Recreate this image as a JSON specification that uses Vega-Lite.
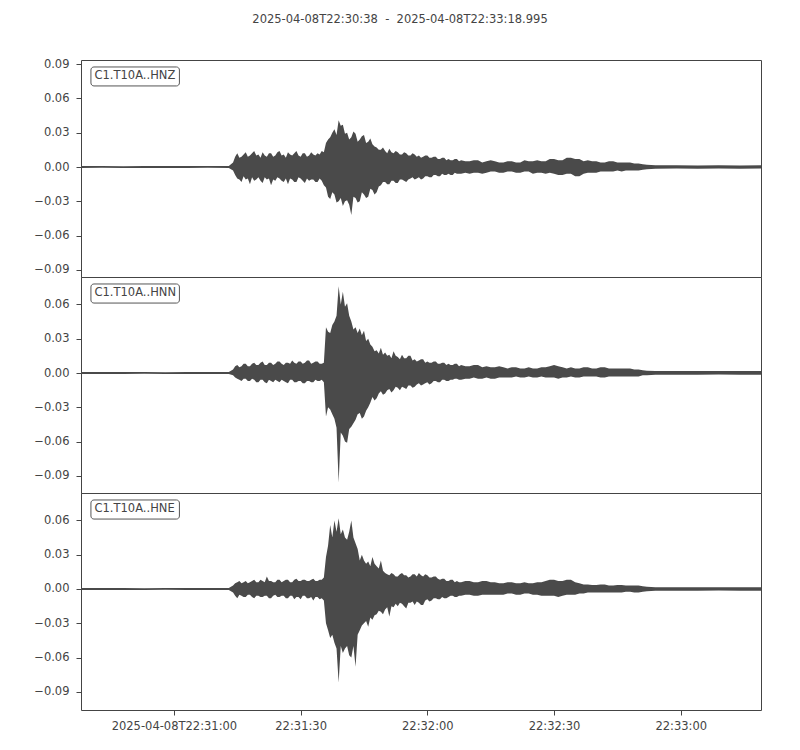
{
  "$schema": "https://vega.github.io/schema/vega-lite/v6.json",
  "padding": {"left": 8, "top": 14, "right": 5, "bottom": 5},
  "bounds": "flush",
  "title": {"text": "2025-04-08T22:30:38\u00a0\u00a0-\u00a0\u00a02025-04-08T22:33:18.995", "fontSize": 11.5, "fontWeight": "normal", "color": "#444", "anchor": "middle", "baseline": "top", "offset": 32, "dx": 15},
  "spacing": 0,
  "datasets": {
    "w": [
      {"ch":"HNZ","t":"2025-04-08T22:30:38","lo":-0.0008,"hi":0.0008},
      {"ch":"HNZ","t":"2025-04-08T22:30:43","lo":-0.0007,"hi":0.0009},
      {"ch":"HNZ","t":"2025-04-08T22:30:48","lo":-0.0009,"hi":0.0007},
      {"ch":"HNZ","t":"2025-04-08T22:30:53","lo":-0.0008,"hi":0.0008},
      {"ch":"HNZ","t":"2025-04-08T22:30:58","lo":-0.0008,"hi":0.0009},
      {"ch":"HNZ","t":"2025-04-08T22:31:03","lo":-0.0009,"hi":0.0008},
      {"ch":"HNZ","t":"2025-04-08T22:31:08","lo":-0.0007,"hi":0.0008},
      {"ch":"HNZ","t":"2025-04-08T22:31:13","lo":-0.0008,"hi":0.0009},
      {"ch":"HNZ","t":"2025-04-08T22:31:14","lo":-0.003,"hi":0.004},
      {"ch":"HNZ","t":"2025-04-08T22:31:14.500","lo":-0.007,"hi":0.009},
      {"ch":"HNZ","t":"2025-04-08T22:31:15","lo":-0.010,"hi":0.012},
      {"ch":"HNZ","t":"2025-04-08T22:31:15.500","lo":-0.011,"hi":0.008},
      {"ch":"HNZ","t":"2025-04-08T22:31:16","lo":-0.013,"hi":0.009},
      {"ch":"HNZ","t":"2025-04-08T22:31:16.500","lo":-0.008,"hi":0.011},
      {"ch":"HNZ","t":"2025-04-08T22:31:17","lo":-0.011,"hi":0.013},
      {"ch":"HNZ","t":"2025-04-08T22:31:17.500","lo":-0.010,"hi":0.009},
      {"ch":"HNZ","t":"2025-04-08T22:31:18","lo":-0.015,"hi":0.010},
      {"ch":"HNZ","t":"2025-04-08T22:31:18.500","lo":-0.009,"hi":0.012},
      {"ch":"HNZ","t":"2025-04-08T22:31:19","lo":-0.012,"hi":0.014},
      {"ch":"HNZ","t":"2025-04-08T22:31:19.500","lo":-0.011,"hi":0.010},
      {"ch":"HNZ","t":"2025-04-08T22:31:20","lo":-0.009,"hi":0.011},
      {"ch":"HNZ","t":"2025-04-08T22:31:20.500","lo":-0.012,"hi":0.008},
      {"ch":"HNZ","t":"2025-04-08T22:31:21","lo":-0.014,"hi":0.013},
      {"ch":"HNZ","t":"2025-04-08T22:31:21.500","lo":-0.009,"hi":0.010},
      {"ch":"HNZ","t":"2025-04-08T22:31:22","lo":-0.011,"hi":0.009},
      {"ch":"HNZ","t":"2025-04-08T22:31:22.500","lo":-0.010,"hi":0.012},
      {"ch":"HNZ","t":"2025-04-08T22:31:23","lo":-0.016,"hi":0.012},
      {"ch":"HNZ","t":"2025-04-08T22:31:23.500","lo":-0.011,"hi":0.009},
      {"ch":"HNZ","t":"2025-04-08T22:31:24","lo":-0.012,"hi":0.010},
      {"ch":"HNZ","t":"2025-04-08T22:31:24.500","lo":-0.009,"hi":0.013},
      {"ch":"HNZ","t":"2025-04-08T22:31:25","lo":-0.010,"hi":0.014},
      {"ch":"HNZ","t":"2025-04-08T22:31:25.500","lo":-0.012,"hi":0.010},
      {"ch":"HNZ","t":"2025-04-08T22:31:26","lo":-0.013,"hi":0.011},
      {"ch":"HNZ","t":"2025-04-08T22:31:26.500","lo":-0.010,"hi":0.008},
      {"ch":"HNZ","t":"2025-04-08T22:31:27","lo":-0.015,"hi":0.013},
      {"ch":"HNZ","t":"2025-04-08T22:31:27.500","lo":-0.010,"hi":0.011},
      {"ch":"HNZ","t":"2025-04-08T22:31:28","lo":-0.011,"hi":0.010},
      {"ch":"HNZ","t":"2025-04-08T22:31:28.500","lo":-0.013,"hi":0.012},
      {"ch":"HNZ","t":"2025-04-08T22:31:29","lo":-0.013,"hi":0.014},
      {"ch":"HNZ","t":"2025-04-08T22:31:29.500","lo":-0.009,"hi":0.010},
      {"ch":"HNZ","t":"2025-04-08T22:31:30","lo":-0.010,"hi":0.009},
      {"ch":"HNZ","t":"2025-04-08T22:31:30.500","lo":-0.012,"hi":0.012},
      {"ch":"HNZ","t":"2025-04-08T22:31:31","lo":-0.014,"hi":0.012},
      {"ch":"HNZ","t":"2025-04-08T22:31:31.500","lo":-0.010,"hi":0.009},
      {"ch":"HNZ","t":"2025-04-08T22:31:32","lo":-0.012,"hi":0.010},
      {"ch":"HNZ","t":"2025-04-08T22:31:32.500","lo":-0.011,"hi":0.013},
      {"ch":"HNZ","t":"2025-04-08T22:31:33","lo":-0.011,"hi":0.011},
      {"ch":"HNZ","t":"2025-04-08T22:31:33.500","lo":-0.013,"hi":0.010},
      {"ch":"HNZ","t":"2025-04-08T22:31:34","lo":-0.013,"hi":0.012},
      {"ch":"HNZ","t":"2025-04-08T22:31:34.500","lo":-0.010,"hi":0.011},
      {"ch":"HNZ","t":"2025-04-08T22:31:35","lo":-0.012,"hi":0.014},
      {"ch":"HNZ","t":"2025-04-08T22:31:35.500","lo":-0.016,"hi":0.013},
      {"ch":"HNZ","t":"2025-04-08T22:31:36","lo":-0.018,"hi":0.021},
      {"ch":"HNZ","t":"2025-04-08T22:31:36.500","lo":-0.026,"hi":0.024},
      {"ch":"HNZ","t":"2025-04-08T22:31:37","lo":-0.028,"hi":0.026},
      {"ch":"HNZ","t":"2025-04-08T22:31:37.500","lo":-0.022,"hi":0.030},
      {"ch":"HNZ","t":"2025-04-08T22:31:38","lo":-0.024,"hi":0.033},
      {"ch":"HNZ","t":"2025-04-08T22:31:38.500","lo":-0.031,"hi":0.028},
      {"ch":"HNZ","t":"2025-04-08T22:31:39","lo":-0.030,"hi":0.041},
      {"ch":"HNZ","t":"2025-04-08T22:31:39.500","lo":-0.027,"hi":0.036},
      {"ch":"HNZ","t":"2025-04-08T22:31:40","lo":-0.034,"hi":0.037},
      {"ch":"HNZ","t":"2025-04-08T22:31:40.500","lo":-0.030,"hi":0.029},
      {"ch":"HNZ","t":"2025-04-08T22:31:41","lo":-0.029,"hi":0.030},
      {"ch":"HNZ","t":"2025-04-08T22:31:41.500","lo":-0.033,"hi":0.024},
      {"ch":"HNZ","t":"2025-04-08T22:31:42","lo":-0.042,"hi":0.026},
      {"ch":"HNZ","t":"2025-04-08T22:31:42.500","lo":-0.026,"hi":0.031},
      {"ch":"HNZ","t":"2025-04-08T22:31:43","lo":-0.027,"hi":0.029},
      {"ch":"HNZ","t":"2025-04-08T22:31:43.500","lo":-0.031,"hi":0.022},
      {"ch":"HNZ","t":"2025-04-08T22:31:44","lo":-0.030,"hi":0.024},
      {"ch":"HNZ","t":"2025-04-08T22:31:44.500","lo":-0.022,"hi":0.027},
      {"ch":"HNZ","t":"2025-04-08T22:31:45","lo":-0.024,"hi":0.028},
      {"ch":"HNZ","t":"2025-04-08T22:31:45.500","lo":-0.027,"hi":0.021},
      {"ch":"HNZ","t":"2025-04-08T22:31:46","lo":-0.026,"hi":0.022},
      {"ch":"HNZ","t":"2025-04-08T22:31:46.500","lo":-0.019,"hi":0.025},
      {"ch":"HNZ","t":"2025-04-08T22:31:47","lo":-0.020,"hi":0.020},
      {"ch":"HNZ","t":"2025-04-08T22:31:47.500","lo":-0.024,"hi":0.018},
      {"ch":"HNZ","t":"2025-04-08T22:31:48","lo":-0.022,"hi":0.017},
      {"ch":"HNZ","t":"2025-04-08T22:31:48.500","lo":-0.017,"hi":0.015},
      {"ch":"HNZ","t":"2025-04-08T22:31:49","lo":-0.016,"hi":0.015},
      {"ch":"HNZ","t":"2025-04-08T22:31:49.500","lo":-0.013,"hi":0.017},
      {"ch":"HNZ","t":"2025-04-08T22:31:50","lo":-0.013,"hi":0.014},
      {"ch":"HNZ","t":"2025-04-08T22:31:50.500","lo":-0.015,"hi":0.012},
      {"ch":"HNZ","t":"2025-04-08T22:31:51","lo":-0.015,"hi":0.016},
      {"ch":"HNZ","t":"2025-04-08T22:31:51.500","lo":-0.012,"hi":0.013},
      {"ch":"HNZ","t":"2025-04-08T22:31:52","lo":-0.012,"hi":0.012},
      {"ch":"HNZ","t":"2025-04-08T22:31:52.500","lo":-0.014,"hi":0.014},
      {"ch":"HNZ","t":"2025-04-08T22:31:53","lo":-0.014,"hi":0.013},
      {"ch":"HNZ","t":"2025-04-08T22:31:53.500","lo":-0.011,"hi":0.011},
      {"ch":"HNZ","t":"2025-04-08T22:31:54","lo":-0.011,"hi":0.011},
      {"ch":"HNZ","t":"2025-04-08T22:31:54.500","lo":-0.012,"hi":0.013},
      {"ch":"HNZ","t":"2025-04-08T22:31:55","lo":-0.013,"hi":0.012},
      {"ch":"HNZ","t":"2025-04-08T22:31:55.500","lo":-0.011,"hi":0.010},
      {"ch":"HNZ","t":"2025-04-08T22:31:56","lo":-0.010,"hi":0.010},
      {"ch":"HNZ","t":"2025-04-08T22:31:56.500","lo":-0.009,"hi":0.012},
      {"ch":"HNZ","t":"2025-04-08T22:31:57","lo":-0.011,"hi":0.011},
      {"ch":"HNZ","t":"2025-04-08T22:31:57.500","lo":-0.010,"hi":0.009},
      {"ch":"HNZ","t":"2025-04-08T22:31:58","lo":-0.009,"hi":0.010},
      {"ch":"HNZ","t":"2025-04-08T22:31:58.500","lo":-0.011,"hi":0.008},
      {"ch":"HNZ","t":"2025-04-08T22:31:59","lo":-0.010,"hi":0.009},
      {"ch":"HNZ","t":"2025-04-08T22:31:59.500","lo":-0.008,"hi":0.010},
      {"ch":"HNZ","t":"2025-04-08T22:32:00","lo":-0.008,"hi":0.010},
      {"ch":"HNZ","t":"2025-04-08T22:32:00.500","lo":-0.009,"hi":0.008},
      {"ch":"HNZ","t":"2025-04-08T22:32:01","lo":-0.009,"hi":0.008},
      {"ch":"HNZ","t":"2025-04-08T22:32:01.500","lo":-0.007,"hi":0.009},
      {"ch":"HNZ","t":"2025-04-08T22:32:02","lo":-0.007,"hi":0.009},
      {"ch":"HNZ","t":"2025-04-08T22:32:02.500","lo":-0.008,"hi":0.007},
      {"ch":"HNZ","t":"2025-04-08T22:32:03","lo":-0.008,"hi":0.007},
      {"ch":"HNZ","t":"2025-04-08T22:32:03.500","lo":-0.006,"hi":0.008},
      {"ch":"HNZ","t":"2025-04-08T22:32:04","lo":-0.007,"hi":0.008},
      {"ch":"HNZ","t":"2025-04-08T22:32:04.500","lo":-0.007,"hi":0.006},
      {"ch":"HNZ","t":"2025-04-08T22:32:05","lo":-0.006,"hi":0.007},
      {"ch":"HNZ","t":"2025-04-08T22:32:05.500","lo":-0.007,"hi":0.006},
      {"ch":"HNZ","t":"2025-04-08T22:32:06","lo":-0.007,"hi":0.006},
      {"ch":"HNZ","t":"2025-04-08T22:32:06.500","lo":-0.005,"hi":0.007},
      {"ch":"HNZ","t":"2025-04-08T22:32:07","lo":-0.006,"hi":0.007},
      {"ch":"HNZ","t":"2025-04-08T22:32:07.500","lo":-0.006,"hi":0.005},
      {"ch":"HNZ","t":"2025-04-08T22:32:08","lo":-0.006,"hi":0.006},
      {"ch":"HNZ","t":"2025-04-08T22:32:09","lo":-0.005,"hi":0.005},
      {"ch":"HNZ","t":"2025-04-08T22:32:10","lo":-0.006,"hi":0.005},
      {"ch":"HNZ","t":"2025-04-08T22:32:11","lo":-0.005,"hi":0.006},
      {"ch":"HNZ","t":"2025-04-08T22:32:12","lo":-0.005,"hi":0.006},
      {"ch":"HNZ","t":"2025-04-08T22:32:13","lo":-0.006,"hi":0.004},
      {"ch":"HNZ","t":"2025-04-08T22:32:14","lo":-0.005,"hi":0.005},
      {"ch":"HNZ","t":"2025-04-08T22:32:15","lo":-0.004,"hi":0.006},
      {"ch":"HNZ","t":"2025-04-08T22:32:16","lo":-0.004,"hi":0.005},
      {"ch":"HNZ","t":"2025-04-08T22:32:17","lo":-0.005,"hi":0.004},
      {"ch":"HNZ","t":"2025-04-08T22:32:18","lo":-0.005,"hi":0.004},
      {"ch":"HNZ","t":"2025-04-08T22:32:19","lo":-0.004,"hi":0.005},
      {"ch":"HNZ","t":"2025-04-08T22:32:20","lo":-0.004,"hi":0.005},
      {"ch":"HNZ","t":"2025-04-08T22:32:21","lo":-0.005,"hi":0.004},
      {"ch":"HNZ","t":"2025-04-08T22:32:22","lo":-0.005,"hi":0.004},
      {"ch":"HNZ","t":"2025-04-08T22:32:23","lo":-0.004,"hi":0.006},
      {"ch":"HNZ","t":"2025-04-08T22:32:24","lo":-0.004,"hi":0.005},
      {"ch":"HNZ","t":"2025-04-08T22:32:25","lo":-0.006,"hi":0.005},
      {"ch":"HNZ","t":"2025-04-08T22:32:26","lo":-0.005,"hi":0.006},
      {"ch":"HNZ","t":"2025-04-08T22:32:27","lo":-0.005,"hi":0.005},
      {"ch":"HNZ","t":"2025-04-08T22:32:28","lo":-0.006,"hi":0.005},
      {"ch":"HNZ","t":"2025-04-08T22:32:29","lo":-0.005,"hi":0.007},
      {"ch":"HNZ","t":"2025-04-08T22:32:30","lo":-0.006,"hi":0.007},
      {"ch":"HNZ","t":"2025-04-08T22:32:31","lo":-0.007,"hi":0.006},
      {"ch":"HNZ","t":"2025-04-08T22:32:32","lo":-0.007,"hi":0.006},
      {"ch":"HNZ","t":"2025-04-08T22:32:33","lo":-0.006,"hi":0.008},
      {"ch":"HNZ","t":"2025-04-08T22:32:34","lo":-0.006,"hi":0.008},
      {"ch":"HNZ","t":"2025-04-08T22:32:35","lo":-0.008,"hi":0.007},
      {"ch":"HNZ","t":"2025-04-08T22:32:36","lo":-0.008,"hi":0.007},
      {"ch":"HNZ","t":"2025-04-08T22:32:37","lo":-0.006,"hi":0.005},
      {"ch":"HNZ","t":"2025-04-08T22:32:38","lo":-0.005,"hi":0.006},
      {"ch":"HNZ","t":"2025-04-08T22:32:39","lo":-0.005,"hi":0.005},
      {"ch":"HNZ","t":"2025-04-08T22:32:40","lo":-0.005,"hi":0.005},
      {"ch":"HNZ","t":"2025-04-08T22:32:41","lo":-0.004,"hi":0.004},
      {"ch":"HNZ","t":"2025-04-08T22:32:42","lo":-0.004,"hi":0.004},
      {"ch":"HNZ","t":"2025-04-08T22:32:43","lo":-0.004,"hi":0.005},
      {"ch":"HNZ","t":"2025-04-08T22:32:44","lo":-0.004,"hi":0.005},
      {"ch":"HNZ","t":"2025-04-08T22:32:45","lo":-0.003,"hi":0.004},
      {"ch":"HNZ","t":"2025-04-08T22:32:46","lo":-0.004,"hi":0.004},
      {"ch":"HNZ","t":"2025-04-08T22:32:47","lo":-0.003,"hi":0.004},
      {"ch":"HNZ","t":"2025-04-08T22:32:48","lo":-0.003,"hi":0.004},
      {"ch":"HNZ","t":"2025-04-08T22:32:49","lo":-0.003,"hi":0.003},
      {"ch":"HNZ","t":"2025-04-08T22:32:50","lo":-0.003,"hi":0.003},
      {"ch":"HNZ","t":"2025-04-08T22:32:51","lo":-0.0025,"hi":0.0025},
      {"ch":"HNZ","t":"2025-04-08T22:32:52","lo":-0.002,"hi":0.002},
      {"ch":"HNZ","t":"2025-04-08T22:32:54","lo":-0.0015,"hi":0.0015},
      {"ch":"HNZ","t":"2025-04-08T22:32:59","lo":-0.0014,"hi":0.0016},
      {"ch":"HNZ","t":"2025-04-08T22:33:04","lo":-0.0015,"hi":0.0014},
      {"ch":"HNZ","t":"2025-04-08T22:33:09","lo":-0.0014,"hi":0.0015},
      {"ch":"HNZ","t":"2025-04-08T22:33:14","lo":-0.0015,"hi":0.0014},
      {"ch":"HNZ","t":"2025-04-08T22:33:18.995","lo":-0.0014,"hi":0.0015},

      {"ch":"HNN","t":"2025-04-08T22:30:38","lo":-0.0008,"hi":0.0008},
      {"ch":"HNN","t":"2025-04-08T22:30:43","lo":-0.0008,"hi":0.0009},
      {"ch":"HNN","t":"2025-04-08T22:30:48","lo":-0.0009,"hi":0.0008},
      {"ch":"HNN","t":"2025-04-08T22:30:53","lo":-0.0007,"hi":0.0008},
      {"ch":"HNN","t":"2025-04-08T22:30:58","lo":-0.0008,"hi":0.0007},
      {"ch":"HNN","t":"2025-04-08T22:31:03","lo":-0.0008,"hi":0.0009},
      {"ch":"HNN","t":"2025-04-08T22:31:08","lo":-0.0009,"hi":0.0008},
      {"ch":"HNN","t":"2025-04-08T22:31:13","lo":-0.0008,"hi":0.0008},
      {"ch":"HNN","t":"2025-04-08T22:31:14","lo":-0.002,"hi":0.003},
      {"ch":"HNN","t":"2025-04-08T22:31:14.500","lo":-0.004,"hi":0.006},
      {"ch":"HNN","t":"2025-04-08T22:31:15","lo":-0.005,"hi":0.007},
      {"ch":"HNN","t":"2025-04-08T22:31:15.500","lo":-0.006,"hi":0.005},
      {"ch":"HNN","t":"2025-04-08T22:31:16","lo":-0.007,"hi":0.006},
      {"ch":"HNN","t":"2025-04-08T22:31:16.500","lo":-0.005,"hi":0.008},
      {"ch":"HNN","t":"2025-04-08T22:31:17","lo":-0.005,"hi":0.008},
      {"ch":"HNN","t":"2025-04-08T22:31:17.500","lo":-0.007,"hi":0.006},
      {"ch":"HNN","t":"2025-04-08T22:31:18","lo":-0.007,"hi":0.006},
      {"ch":"HNN","t":"2025-04-08T22:31:18.500","lo":-0.005,"hi":0.008},
      {"ch":"HNN","t":"2025-04-08T22:31:19","lo":-0.006,"hi":0.009},
      {"ch":"HNN","t":"2025-04-08T22:31:19.500","lo":-0.008,"hi":0.007},
      {"ch":"HNN","t":"2025-04-08T22:31:20","lo":-0.008,"hi":0.007},
      {"ch":"HNN","t":"2025-04-08T22:31:20.500","lo":-0.006,"hi":0.009},
      {"ch":"HNN","t":"2025-04-08T22:31:21","lo":-0.006,"hi":0.010},
      {"ch":"HNN","t":"2025-04-08T22:31:21.500","lo":-0.008,"hi":0.007},
      {"ch":"HNN","t":"2025-04-08T22:31:22","lo":-0.009,"hi":0.007},
      {"ch":"HNN","t":"2025-04-08T22:31:22.500","lo":-0.006,"hi":0.009},
      {"ch":"HNN","t":"2025-04-08T22:31:23","lo":-0.007,"hi":0.009},
      {"ch":"HNN","t":"2025-04-08T22:31:23.500","lo":-0.008,"hi":0.007},
      {"ch":"HNN","t":"2025-04-08T22:31:24","lo":-0.006,"hi":0.008},
      {"ch":"HNN","t":"2025-04-08T22:31:24.500","lo":-0.007,"hi":0.010},
      {"ch":"HNN","t":"2025-04-08T22:31:25","lo":-0.008,"hi":0.010},
      {"ch":"HNN","t":"2025-04-08T22:31:25.500","lo":-0.006,"hi":0.008},
      {"ch":"HNN","t":"2025-04-08T22:31:26","lo":-0.007,"hi":0.007},
      {"ch":"HNN","t":"2025-04-08T22:31:26.500","lo":-0.008,"hi":0.009},
      {"ch":"HNN","t":"2025-04-08T22:31:27","lo":-0.009,"hi":0.009},
      {"ch":"HNN","t":"2025-04-08T22:31:27.500","lo":-0.006,"hi":0.008},
      {"ch":"HNN","t":"2025-04-08T22:31:28","lo":-0.006,"hi":0.011},
      {"ch":"HNN","t":"2025-04-08T22:31:28.500","lo":-0.008,"hi":0.009},
      {"ch":"HNN","t":"2025-04-08T22:31:29","lo":-0.008,"hi":0.008},
      {"ch":"HNN","t":"2025-04-08T22:31:29.500","lo":-0.007,"hi":0.010},
      {"ch":"HNN","t":"2025-04-08T22:31:30","lo":-0.007,"hi":0.010},
      {"ch":"HNN","t":"2025-04-08T22:31:30.500","lo":-0.009,"hi":0.008},
      {"ch":"HNN","t":"2025-04-08T22:31:31","lo":-0.009,"hi":0.009},
      {"ch":"HNN","t":"2025-04-08T22:31:31.500","lo":-0.007,"hi":0.011},
      {"ch":"HNN","t":"2025-04-08T22:31:32","lo":-0.007,"hi":0.011},
      {"ch":"HNN","t":"2025-04-08T22:31:32.500","lo":-0.008,"hi":0.008},
      {"ch":"HNN","t":"2025-04-08T22:31:33","lo":-0.008,"hi":0.009},
      {"ch":"HNN","t":"2025-04-08T22:31:33.500","lo":-0.006,"hi":0.010},
      {"ch":"HNN","t":"2025-04-08T22:31:34","lo":-0.007,"hi":0.010},
      {"ch":"HNN","t":"2025-04-08T22:31:34.500","lo":-0.007,"hi":0.008},
      {"ch":"HNN","t":"2025-04-08T22:31:35","lo":-0.006,"hi":0.008},
      {"ch":"HNN","t":"2025-04-08T22:31:35.500","lo":-0.008,"hi":0.009},
      {"ch":"HNN","t":"2025-04-08T22:31:36","lo":-0.038,"hi":0.040},
      {"ch":"HNN","t":"2025-04-08T22:31:36.500","lo":-0.030,"hi":0.036},
      {"ch":"HNN","t":"2025-04-08T22:31:37","lo":-0.032,"hi":0.035},
      {"ch":"HNN","t":"2025-04-08T22:31:37.500","lo":-0.036,"hi":0.042},
      {"ch":"HNN","t":"2025-04-08T22:31:38","lo":-0.040,"hi":0.045},
      {"ch":"HNN","t":"2025-04-08T22:31:38.500","lo":-0.048,"hi":0.050},
      {"ch":"HNN","t":"2025-04-08T22:31:39","lo":-0.096,"hi":0.076},
      {"ch":"HNN","t":"2025-04-08T22:31:39.500","lo":-0.052,"hi":0.060},
      {"ch":"HNN","t":"2025-04-08T22:31:40","lo":-0.055,"hi":0.071},
      {"ch":"HNN","t":"2025-04-08T22:31:40.500","lo":-0.060,"hi":0.058},
      {"ch":"HNN","t":"2025-04-08T22:31:41","lo":-0.061,"hi":0.061},
      {"ch":"HNN","t":"2025-04-08T22:31:41.500","lo":-0.049,"hi":0.050},
      {"ch":"HNN","t":"2025-04-08T22:31:42","lo":-0.047,"hi":0.045},
      {"ch":"HNN","t":"2025-04-08T22:31:42.500","lo":-0.044,"hi":0.038},
      {"ch":"HNN","t":"2025-04-08T22:31:43","lo":-0.041,"hi":0.040},
      {"ch":"HNN","t":"2025-04-08T22:31:43.500","lo":-0.036,"hi":0.035},
      {"ch":"HNN","t":"2025-04-08T22:31:44","lo":-0.035,"hi":0.039},
      {"ch":"HNN","t":"2025-04-08T22:31:44.500","lo":-0.040,"hi":0.033},
      {"ch":"HNN","t":"2025-04-08T22:31:45","lo":-0.038,"hi":0.037},
      {"ch":"HNN","t":"2025-04-08T22:31:45.500","lo":-0.033,"hi":0.028},
      {"ch":"HNN","t":"2025-04-08T22:31:46","lo":-0.030,"hi":0.030},
      {"ch":"HNN","t":"2025-04-08T22:31:46.500","lo":-0.026,"hi":0.025},
      {"ch":"HNN","t":"2025-04-08T22:31:47","lo":-0.021,"hi":0.023},
      {"ch":"HNN","t":"2025-04-08T22:31:47.500","lo":-0.024,"hi":0.019},
      {"ch":"HNN","t":"2025-04-08T22:31:48","lo":-0.022,"hi":0.020},
      {"ch":"HNN","t":"2025-04-08T22:31:48.500","lo":-0.018,"hi":0.017},
      {"ch":"HNN","t":"2025-04-08T22:31:49","lo":-0.016,"hi":0.022},
      {"ch":"HNN","t":"2025-04-08T22:31:49.500","lo":-0.019,"hi":0.016},
      {"ch":"HNN","t":"2025-04-08T22:31:50","lo":-0.018,"hi":0.018},
      {"ch":"HNN","t":"2025-04-08T22:31:50.500","lo":-0.015,"hi":0.015},
      {"ch":"HNN","t":"2025-04-08T22:31:51","lo":-0.014,"hi":0.016},
      {"ch":"HNN","t":"2025-04-08T22:31:51.500","lo":-0.017,"hi":0.013},
      {"ch":"HNN","t":"2025-04-08T22:31:52","lo":-0.015,"hi":0.019},
      {"ch":"HNN","t":"2025-04-08T22:31:52.500","lo":-0.012,"hi":0.015},
      {"ch":"HNN","t":"2025-04-08T22:31:53","lo":-0.013,"hi":0.014},
      {"ch":"HNN","t":"2025-04-08T22:31:53.500","lo":-0.015,"hi":0.012},
      {"ch":"HNN","t":"2025-04-08T22:31:54","lo":-0.012,"hi":0.016},
      {"ch":"HNN","t":"2025-04-08T22:31:54.500","lo":-0.013,"hi":0.013},
      {"ch":"HNN","t":"2025-04-08T22:31:55","lo":-0.014,"hi":0.013},
      {"ch":"HNN","t":"2025-04-08T22:31:55.500","lo":-0.011,"hi":0.015},
      {"ch":"HNN","t":"2025-04-08T22:31:56","lo":-0.011,"hi":0.015},
      {"ch":"HNN","t":"2025-04-08T22:31:56.500","lo":-0.013,"hi":0.011},
      {"ch":"HNN","t":"2025-04-08T22:31:57","lo":-0.012,"hi":0.012},
      {"ch":"HNN","t":"2025-04-08T22:31:57.500","lo":-0.010,"hi":0.010},
      {"ch":"HNN","t":"2025-04-08T22:31:58","lo":-0.009,"hi":0.011},
      {"ch":"HNN","t":"2025-04-08T22:31:58.500","lo":-0.011,"hi":0.012},
      {"ch":"HNN","t":"2025-04-08T22:31:59","lo":-0.010,"hi":0.012},
      {"ch":"HNN","t":"2025-04-08T22:31:59.500","lo":-0.009,"hi":0.009},
      {"ch":"HNN","t":"2025-04-08T22:32:00","lo":-0.008,"hi":0.010},
      {"ch":"HNN","t":"2025-04-08T22:32:00.500","lo":-0.010,"hi":0.009},
      {"ch":"HNN","t":"2025-04-08T22:32:01","lo":-0.009,"hi":0.009},
      {"ch":"HNN","t":"2025-04-08T22:32:01.500","lo":-0.007,"hi":0.010},
      {"ch":"HNN","t":"2025-04-08T22:32:02","lo":-0.007,"hi":0.010},
      {"ch":"HNN","t":"2025-04-08T22:32:02.500","lo":-0.008,"hi":0.008},
      {"ch":"HNN","t":"2025-04-08T22:32:03","lo":-0.008,"hi":0.008},
      {"ch":"HNN","t":"2025-04-08T22:32:03.500","lo":-0.006,"hi":0.009},
      {"ch":"HNN","t":"2025-04-08T22:32:04","lo":-0.006,"hi":0.009},
      {"ch":"HNN","t":"2025-04-08T22:32:04.500","lo":-0.007,"hi":0.007},
      {"ch":"HNN","t":"2025-04-08T22:32:05","lo":-0.007,"hi":0.008},
      {"ch":"HNN","t":"2025-04-08T22:32:05.500","lo":-0.006,"hi":0.007},
      {"ch":"HNN","t":"2025-04-08T22:32:06","lo":-0.006,"hi":0.007},
      {"ch":"HNN","t":"2025-04-08T22:32:06.500","lo":-0.005,"hi":0.008},
      {"ch":"HNN","t":"2025-04-08T22:32:07","lo":-0.005,"hi":0.008},
      {"ch":"HNN","t":"2025-04-08T22:32:07.500","lo":-0.006,"hi":0.006},
      {"ch":"HNN","t":"2025-04-08T22:32:08","lo":-0.006,"hi":0.007},
      {"ch":"HNN","t":"2025-04-08T22:32:09","lo":-0.005,"hi":0.006},
      {"ch":"HNN","t":"2025-04-08T22:32:10","lo":-0.005,"hi":0.006},
      {"ch":"HNN","t":"2025-04-08T22:32:11","lo":-0.004,"hi":0.007},
      {"ch":"HNN","t":"2025-04-08T22:32:12","lo":-0.005,"hi":0.007},
      {"ch":"HNN","t":"2025-04-08T22:32:13","lo":-0.005,"hi":0.005},
      {"ch":"HNN","t":"2025-04-08T22:32:14","lo":-0.004,"hi":0.006},
      {"ch":"HNN","t":"2025-04-08T22:32:15","lo":-0.005,"hi":0.005},
      {"ch":"HNN","t":"2025-04-08T22:32:16","lo":-0.005,"hi":0.005},
      {"ch":"HNN","t":"2025-04-08T22:32:17","lo":-0.004,"hi":0.006},
      {"ch":"HNN","t":"2025-04-08T22:32:18","lo":-0.004,"hi":0.005},
      {"ch":"HNN","t":"2025-04-08T22:32:19","lo":-0.004,"hi":0.004},
      {"ch":"HNN","t":"2025-04-08T22:32:20","lo":-0.004,"hi":0.005},
      {"ch":"HNN","t":"2025-04-08T22:32:21","lo":-0.003,"hi":0.005},
      {"ch":"HNN","t":"2025-04-08T22:32:22","lo":-0.004,"hi":0.004},
      {"ch":"HNN","t":"2025-04-08T22:32:23","lo":-0.004,"hi":0.004},
      {"ch":"HNN","t":"2025-04-08T22:32:24","lo":-0.003,"hi":0.005},
      {"ch":"HNN","t":"2025-04-08T22:32:25","lo":-0.004,"hi":0.004},
      {"ch":"HNN","t":"2025-04-08T22:32:26","lo":-0.004,"hi":0.004},
      {"ch":"HNN","t":"2025-04-08T22:32:27","lo":-0.003,"hi":0.005},
      {"ch":"HNN","t":"2025-04-08T22:32:28","lo":-0.004,"hi":0.005},
      {"ch":"HNN","t":"2025-04-08T22:32:29","lo":-0.004,"hi":0.006},
      {"ch":"HNN","t":"2025-04-08T22:32:30","lo":-0.004,"hi":0.007},
      {"ch":"HNN","t":"2025-04-08T22:32:31","lo":-0.005,"hi":0.006},
      {"ch":"HNN","t":"2025-04-08T22:32:32","lo":-0.004,"hi":0.005},
      {"ch":"HNN","t":"2025-04-08T22:32:33","lo":-0.004,"hi":0.004},
      {"ch":"HNN","t":"2025-04-08T22:32:34","lo":-0.003,"hi":0.005},
      {"ch":"HNN","t":"2025-04-08T22:32:35","lo":-0.004,"hi":0.004},
      {"ch":"HNN","t":"2025-04-08T22:32:36","lo":-0.004,"hi":0.004},
      {"ch":"HNN","t":"2025-04-08T22:32:37","lo":-0.003,"hi":0.005},
      {"ch":"HNN","t":"2025-04-08T22:32:38","lo":-0.003,"hi":0.005},
      {"ch":"HNN","t":"2025-04-08T22:32:39","lo":-0.003,"hi":0.004},
      {"ch":"HNN","t":"2025-04-08T22:32:40","lo":-0.003,"hi":0.004},
      {"ch":"HNN","t":"2025-04-08T22:32:41","lo":-0.004,"hi":0.005},
      {"ch":"HNN","t":"2025-04-08T22:32:42","lo":-0.004,"hi":0.005},
      {"ch":"HNN","t":"2025-04-08T22:32:43","lo":-0.003,"hi":0.004},
      {"ch":"HNN","t":"2025-04-08T22:32:44","lo":-0.003,"hi":0.004},
      {"ch":"HNN","t":"2025-04-08T22:32:45","lo":-0.003,"hi":0.004},
      {"ch":"HNN","t":"2025-04-08T22:32:46","lo":-0.003,"hi":0.004},
      {"ch":"HNN","t":"2025-04-08T22:32:47","lo":-0.003,"hi":0.004},
      {"ch":"HNN","t":"2025-04-08T22:32:48","lo":-0.003,"hi":0.004},
      {"ch":"HNN","t":"2025-04-08T22:32:49","lo":-0.003,"hi":0.003},
      {"ch":"HNN","t":"2025-04-08T22:32:50","lo":-0.003,"hi":0.003},
      {"ch":"HNN","t":"2025-04-08T22:32:51","lo":-0.002,"hi":0.0025},
      {"ch":"HNN","t":"2025-04-08T22:32:52","lo":-0.002,"hi":0.002},
      {"ch":"HNN","t":"2025-04-08T22:32:54","lo":-0.0015,"hi":0.0018},
      {"ch":"HNN","t":"2025-04-08T22:32:59","lo":-0.0016,"hi":0.0017},
      {"ch":"HNN","t":"2025-04-08T22:33:04","lo":-0.0015,"hi":0.0018},
      {"ch":"HNN","t":"2025-04-08T22:33:09","lo":-0.0014,"hi":0.0017},
      {"ch":"HNN","t":"2025-04-08T22:33:14","lo":-0.0015,"hi":0.0018},
      {"ch":"HNN","t":"2025-04-08T22:33:18.995","lo":-0.0015,"hi":0.0017},

      {"ch":"HNE","t":"2025-04-08T22:30:38","lo":-0.0008,"hi":0.0008},
      {"ch":"HNE","t":"2025-04-08T22:30:43","lo":-0.0009,"hi":0.0008},
      {"ch":"HNE","t":"2025-04-08T22:30:48","lo":-0.0008,"hi":0.0009},
      {"ch":"HNE","t":"2025-04-08T22:30:53","lo":-0.0008,"hi":0.0007},
      {"ch":"HNE","t":"2025-04-08T22:30:58","lo":-0.0007,"hi":0.0008},
      {"ch":"HNE","t":"2025-04-08T22:31:03","lo":-0.0009,"hi":0.0008},
      {"ch":"HNE","t":"2025-04-08T22:31:08","lo":-0.0008,"hi":0.0009},
      {"ch":"HNE","t":"2025-04-08T22:31:13","lo":-0.0008,"hi":0.0008},
      {"ch":"HNE","t":"2025-04-08T22:31:14","lo":-0.003,"hi":0.003},
      {"ch":"HNE","t":"2025-04-08T22:31:14.500","lo":-0.006,"hi":0.005},
      {"ch":"HNE","t":"2025-04-08T22:31:15","lo":-0.008,"hi":0.006},
      {"ch":"HNE","t":"2025-04-08T22:31:15.500","lo":-0.005,"hi":0.007},
      {"ch":"HNE","t":"2025-04-08T22:31:16","lo":-0.006,"hi":0.005},
      {"ch":"HNE","t":"2025-04-08T22:31:16.500","lo":-0.007,"hi":0.006},
      {"ch":"HNE","t":"2025-04-08T22:31:17","lo":-0.007,"hi":0.007},
      {"ch":"HNE","t":"2025-04-08T22:31:17.500","lo":-0.005,"hi":0.005},
      {"ch":"HNE","t":"2025-04-08T22:31:18","lo":-0.005,"hi":0.006},
      {"ch":"HNE","t":"2025-04-08T22:31:18.500","lo":-0.007,"hi":0.007},
      {"ch":"HNE","t":"2025-04-08T22:31:19","lo":-0.008,"hi":0.008},
      {"ch":"HNE","t":"2025-04-08T22:31:19.500","lo":-0.006,"hi":0.006},
      {"ch":"HNE","t":"2025-04-08T22:31:20","lo":-0.006,"hi":0.006},
      {"ch":"HNE","t":"2025-04-08T22:31:20.500","lo":-0.007,"hi":0.008},
      {"ch":"HNE","t":"2025-04-08T22:31:21","lo":-0.007,"hi":0.007},
      {"ch":"HNE","t":"2025-04-08T22:31:21.500","lo":-0.006,"hi":0.006},
      {"ch":"HNE","t":"2025-04-08T22:31:22","lo":-0.006,"hi":0.011},
      {"ch":"HNE","t":"2025-04-08T22:31:22.500","lo":-0.008,"hi":0.007},
      {"ch":"HNE","t":"2025-04-08T22:31:23","lo":-0.008,"hi":0.007},
      {"ch":"HNE","t":"2025-04-08T22:31:23.500","lo":-0.006,"hi":0.006},
      {"ch":"HNE","t":"2025-04-08T22:31:24","lo":-0.005,"hi":0.006},
      {"ch":"HNE","t":"2025-04-08T22:31:24.500","lo":-0.007,"hi":0.008},
      {"ch":"HNE","t":"2025-04-08T22:31:25","lo":-0.007,"hi":0.008},
      {"ch":"HNE","t":"2025-04-08T22:31:25.500","lo":-0.006,"hi":0.006},
      {"ch":"HNE","t":"2025-04-08T22:31:26","lo":-0.006,"hi":0.007},
      {"ch":"HNE","t":"2025-04-08T22:31:26.500","lo":-0.008,"hi":0.008},
      {"ch":"HNE","t":"2025-04-08T22:31:27","lo":-0.008,"hi":0.008},
      {"ch":"HNE","t":"2025-04-08T22:31:27.500","lo":-0.006,"hi":0.006},
      {"ch":"HNE","t":"2025-04-08T22:31:28","lo":-0.006,"hi":0.006},
      {"ch":"HNE","t":"2025-04-08T22:31:28.500","lo":-0.009,"hi":0.008},
      {"ch":"HNE","t":"2025-04-08T22:31:29","lo":-0.007,"hi":0.009},
      {"ch":"HNE","t":"2025-04-08T22:31:29.500","lo":-0.007,"hi":0.007},
      {"ch":"HNE","t":"2025-04-08T22:31:30","lo":-0.009,"hi":0.007},
      {"ch":"HNE","t":"2025-04-08T22:31:30.500","lo":-0.006,"hi":0.008},
      {"ch":"HNE","t":"2025-04-08T22:31:31","lo":-0.006,"hi":0.008},
      {"ch":"HNE","t":"2025-04-08T22:31:31.500","lo":-0.008,"hi":0.007},
      {"ch":"HNE","t":"2025-04-08T22:31:32","lo":-0.008,"hi":0.007},
      {"ch":"HNE","t":"2025-04-08T22:31:32.500","lo":-0.007,"hi":0.008},
      {"ch":"HNE","t":"2025-04-08T22:31:33","lo":-0.010,"hi":0.009},
      {"ch":"HNE","t":"2025-04-08T22:31:33.500","lo":-0.007,"hi":0.007},
      {"ch":"HNE","t":"2025-04-08T22:31:34","lo":-0.007,"hi":0.007},
      {"ch":"HNE","t":"2025-04-08T22:31:34.500","lo":-0.009,"hi":0.008},
      {"ch":"HNE","t":"2025-04-08T22:31:35","lo":-0.008,"hi":0.008},
      {"ch":"HNE","t":"2025-04-08T22:31:35.500","lo":-0.010,"hi":0.010},
      {"ch":"HNE","t":"2025-04-08T22:31:36","lo":-0.030,"hi":0.028},
      {"ch":"HNE","t":"2025-04-08T22:31:36.500","lo":-0.036,"hi":0.038},
      {"ch":"HNE","t":"2025-04-08T22:31:37","lo":-0.043,"hi":0.056},
      {"ch":"HNE","t":"2025-04-08T22:31:37.500","lo":-0.040,"hi":0.045},
      {"ch":"HNE","t":"2025-04-08T22:31:38","lo":-0.047,"hi":0.060},
      {"ch":"HNE","t":"2025-04-08T22:31:38.500","lo":-0.052,"hi":0.050},
      {"ch":"HNE","t":"2025-04-08T22:31:39","lo":-0.082,"hi":0.062},
      {"ch":"HNE","t":"2025-04-08T22:31:39.500","lo":-0.050,"hi":0.048},
      {"ch":"HNE","t":"2025-04-08T22:31:40","lo":-0.056,"hi":0.052},
      {"ch":"HNE","t":"2025-04-08T22:31:40.500","lo":-0.052,"hi":0.045},
      {"ch":"HNE","t":"2025-04-08T22:31:41","lo":-0.050,"hi":0.043},
      {"ch":"HNE","t":"2025-04-08T22:31:41.500","lo":-0.058,"hi":0.050},
      {"ch":"HNE","t":"2025-04-08T22:31:42","lo":-0.060,"hi":0.060},
      {"ch":"HNE","t":"2025-04-08T22:31:42.500","lo":-0.050,"hi":0.045},
      {"ch":"HNE","t":"2025-04-08T22:31:43","lo":-0.068,"hi":0.040},
      {"ch":"HNE","t":"2025-04-08T22:31:43.500","lo":-0.040,"hi":0.035},
      {"ch":"HNE","t":"2025-04-08T22:31:44","lo":-0.036,"hi":0.025},
      {"ch":"HNE","t":"2025-04-08T22:31:44.500","lo":-0.032,"hi":0.030},
      {"ch":"HNE","t":"2025-04-08T22:31:45","lo":-0.030,"hi":0.025},
      {"ch":"HNE","t":"2025-04-08T22:31:45.500","lo":-0.028,"hi":0.022},
      {"ch":"HNE","t":"2025-04-08T22:31:46","lo":-0.033,"hi":0.024},
      {"ch":"HNE","t":"2025-04-08T22:31:46.500","lo":-0.025,"hi":0.020},
      {"ch":"HNE","t":"2025-04-08T22:31:47","lo":-0.027,"hi":0.028},
      {"ch":"HNE","t":"2025-04-08T22:31:47.500","lo":-0.023,"hi":0.022},
      {"ch":"HNE","t":"2025-04-08T22:31:48","lo":-0.022,"hi":0.020},
      {"ch":"HNE","t":"2025-04-08T22:31:48.500","lo":-0.019,"hi":0.018},
      {"ch":"HNE","t":"2025-04-08T22:31:49","lo":-0.020,"hi":0.025},
      {"ch":"HNE","t":"2025-04-08T22:31:49.500","lo":-0.022,"hi":0.016},
      {"ch":"HNE","t":"2025-04-08T22:31:50","lo":-0.018,"hi":0.014},
      {"ch":"HNE","t":"2025-04-08T22:31:50.500","lo":-0.016,"hi":0.013},
      {"ch":"HNE","t":"2025-04-08T22:31:51","lo":-0.024,"hi":0.012},
      {"ch":"HNE","t":"2025-04-08T22:31:51.500","lo":-0.015,"hi":0.014},
      {"ch":"HNE","t":"2025-04-08T22:31:52","lo":-0.016,"hi":0.013},
      {"ch":"HNE","t":"2025-04-08T22:31:52.500","lo":-0.013,"hi":0.011},
      {"ch":"HNE","t":"2025-04-08T22:31:53","lo":-0.015,"hi":0.011},
      {"ch":"HNE","t":"2025-04-08T22:31:53.500","lo":-0.012,"hi":0.013},
      {"ch":"HNE","t":"2025-04-08T22:31:54","lo":-0.013,"hi":0.014},
      {"ch":"HNE","t":"2025-04-08T22:31:54.500","lo":-0.015,"hi":0.012},
      {"ch":"HNE","t":"2025-04-08T22:31:55","lo":-0.017,"hi":0.012},
      {"ch":"HNE","t":"2025-04-08T22:31:55.500","lo":-0.012,"hi":0.010},
      {"ch":"HNE","t":"2025-04-08T22:31:56","lo":-0.012,"hi":0.011},
      {"ch":"HNE","t":"2025-04-08T22:31:56.500","lo":-0.011,"hi":0.013},
      {"ch":"HNE","t":"2025-04-08T22:31:57","lo":-0.014,"hi":0.013},
      {"ch":"HNE","t":"2025-04-08T22:31:57.500","lo":-0.011,"hi":0.011},
      {"ch":"HNE","t":"2025-04-08T22:31:58","lo":-0.012,"hi":0.014},
      {"ch":"HNE","t":"2025-04-08T22:31:58.500","lo":-0.014,"hi":0.012},
      {"ch":"HNE","t":"2025-04-08T22:31:59","lo":-0.014,"hi":0.011},
      {"ch":"HNE","t":"2025-04-08T22:31:59.500","lo":-0.010,"hi":0.013},
      {"ch":"HNE","t":"2025-04-08T22:32:00","lo":-0.009,"hi":0.012},
      {"ch":"HNE","t":"2025-04-08T22:32:00.500","lo":-0.011,"hi":0.010},
      {"ch":"HNE","t":"2025-04-08T22:32:01","lo":-0.010,"hi":0.010},
      {"ch":"HNE","t":"2025-04-08T22:32:01.500","lo":-0.008,"hi":0.011},
      {"ch":"HNE","t":"2025-04-08T22:32:02","lo":-0.008,"hi":0.011},
      {"ch":"HNE","t":"2025-04-08T22:32:02.500","lo":-0.009,"hi":0.009},
      {"ch":"HNE","t":"2025-04-08T22:32:03","lo":-0.009,"hi":0.008},
      {"ch":"HNE","t":"2025-04-08T22:32:03.500","lo":-0.007,"hi":0.009},
      {"ch":"HNE","t":"2025-04-08T22:32:04","lo":-0.008,"hi":0.009},
      {"ch":"HNE","t":"2025-04-08T22:32:04.500","lo":-0.008,"hi":0.007},
      {"ch":"HNE","t":"2025-04-08T22:32:05","lo":-0.007,"hi":0.007},
      {"ch":"HNE","t":"2025-04-08T22:32:05.500","lo":-0.006,"hi":0.008},
      {"ch":"HNE","t":"2025-04-08T22:32:06","lo":-0.006,"hi":0.008},
      {"ch":"HNE","t":"2025-04-08T22:32:06.500","lo":-0.007,"hi":0.006},
      {"ch":"HNE","t":"2025-04-08T22:32:07","lo":-0.007,"hi":0.007},
      {"ch":"HNE","t":"2025-04-08T22:32:07.500","lo":-0.006,"hi":0.006},
      {"ch":"HNE","t":"2025-04-08T22:32:08","lo":-0.006,"hi":0.006},
      {"ch":"HNE","t":"2025-04-08T22:32:09","lo":-0.005,"hi":0.007},
      {"ch":"HNE","t":"2025-04-08T22:32:10","lo":-0.005,"hi":0.007},
      {"ch":"HNE","t":"2025-04-08T22:32:11","lo":-0.006,"hi":0.006},
      {"ch":"HNE","t":"2025-04-08T22:32:12","lo":-0.006,"hi":0.006},
      {"ch":"HNE","t":"2025-04-08T22:32:13","lo":-0.005,"hi":0.007},
      {"ch":"HNE","t":"2025-04-08T22:32:14","lo":-0.005,"hi":0.007},
      {"ch":"HNE","t":"2025-04-08T22:32:15","lo":-0.005,"hi":0.006},
      {"ch":"HNE","t":"2025-04-08T22:32:16","lo":-0.005,"hi":0.006},
      {"ch":"HNE","t":"2025-04-08T22:32:17","lo":-0.005,"hi":0.005},
      {"ch":"HNE","t":"2025-04-08T22:32:18","lo":-0.005,"hi":0.005},
      {"ch":"HNE","t":"2025-04-08T22:32:19","lo":-0.004,"hi":0.006},
      {"ch":"HNE","t":"2025-04-08T22:32:20","lo":-0.004,"hi":0.006},
      {"ch":"HNE","t":"2025-04-08T22:32:21","lo":-0.005,"hi":0.005},
      {"ch":"HNE","t":"2025-04-08T22:32:22","lo":-0.005,"hi":0.005},
      {"ch":"HNE","t":"2025-04-08T22:32:23","lo":-0.004,"hi":0.006},
      {"ch":"HNE","t":"2025-04-08T22:32:24","lo":-0.004,"hi":0.005},
      {"ch":"HNE","t":"2025-04-08T22:32:25","lo":-0.005,"hi":0.005},
      {"ch":"HNE","t":"2025-04-08T22:32:26","lo":-0.005,"hi":0.006},
      {"ch":"HNE","t":"2025-04-08T22:32:27","lo":-0.006,"hi":0.006},
      {"ch":"HNE","t":"2025-04-08T22:32:28","lo":-0.006,"hi":0.007},
      {"ch":"HNE","t":"2025-04-08T22:32:29","lo":-0.006,"hi":0.008},
      {"ch":"HNE","t":"2025-04-08T22:32:30","lo":-0.006,"hi":0.008},
      {"ch":"HNE","t":"2025-04-08T22:32:31","lo":-0.007,"hi":0.007},
      {"ch":"HNE","t":"2025-04-08T22:32:32","lo":-0.006,"hi":0.007},
      {"ch":"HNE","t":"2025-04-08T22:32:33","lo":-0.005,"hi":0.008},
      {"ch":"HNE","t":"2025-04-08T22:32:34","lo":-0.005,"hi":0.008},
      {"ch":"HNE","t":"2025-04-08T22:32:35","lo":-0.005,"hi":0.006},
      {"ch":"HNE","t":"2025-04-08T22:32:36","lo":-0.004,"hi":0.005},
      {"ch":"HNE","t":"2025-04-08T22:32:37","lo":-0.004,"hi":0.004},
      {"ch":"HNE","t":"2025-04-08T22:32:38","lo":-0.003,"hi":0.004},
      {"ch":"HNE","t":"2025-04-08T22:32:39","lo":-0.003,"hi":0.0035},
      {"ch":"HNE","t":"2025-04-08T22:32:40","lo":-0.003,"hi":0.0035},
      {"ch":"HNE","t":"2025-04-08T22:32:41","lo":-0.003,"hi":0.004},
      {"ch":"HNE","t":"2025-04-08T22:32:42","lo":-0.003,"hi":0.004},
      {"ch":"HNE","t":"2025-04-08T22:32:43","lo":-0.003,"hi":0.003},
      {"ch":"HNE","t":"2025-04-08T22:32:44","lo":-0.003,"hi":0.003},
      {"ch":"HNE","t":"2025-04-08T22:32:45","lo":-0.003,"hi":0.0035},
      {"ch":"HNE","t":"2025-04-08T22:32:46","lo":-0.003,"hi":0.0035},
      {"ch":"HNE","t":"2025-04-08T22:32:47","lo":-0.0025,"hi":0.003},
      {"ch":"HNE","t":"2025-04-08T22:32:48","lo":-0.0025,"hi":0.003},
      {"ch":"HNE","t":"2025-04-08T22:32:49","lo":-0.003,"hi":0.003},
      {"ch":"HNE","t":"2025-04-08T22:32:50","lo":-0.003,"hi":0.003},
      {"ch":"HNE","t":"2025-04-08T22:32:51","lo":-0.0025,"hi":0.0025},
      {"ch":"HNE","t":"2025-04-08T22:32:52","lo":-0.002,"hi":0.002},
      {"ch":"HNE","t":"2025-04-08T22:32:54","lo":-0.0015,"hi":0.0015},
      {"ch":"HNE","t":"2025-04-08T22:32:59","lo":-0.0016,"hi":0.0015},
      {"ch":"HNE","t":"2025-04-08T22:33:04","lo":-0.0015,"hi":0.0016},
      {"ch":"HNE","t":"2025-04-08T22:33:09","lo":-0.0014,"hi":0.0015},
      {"ch":"HNE","t":"2025-04-08T22:33:14","lo":-0.0015,"hi":0.0016},
      {"ch":"HNE","t":"2025-04-08T22:33:18.995","lo":-0.0015,"hi":0.0015}
    ]
  },
  "vconcat": [
    {
      "width": 680, "height": 217,
      "layer": [
        {
          "data": {"name": "w"},
          "transform": [{"filter": "datum.ch == 'HNZ'"}],
          "mark": {"type": "area", "color": "#4a4a4a", "interpolate": "linear"},
          "encoding": {
            "x": {"field": "t", "type": "temporal", "scale": {"domain": [{"year":2025,"month":4,"date":8,"hours":22,"minutes":30,"seconds":38},{"year":2025,"month":4,"date":8,"hours":22,"minutes":33,"seconds":18,"milliseconds":995}]}, "axis": null},
            "y": {"field": "lo", "type": "quantitative", "scale": {"domain": [-0.0962, 0.0936], "nice": false, "zero": false},
                  "axis": {"title": null, "values": [-0.09,-0.06,-0.03,0,0.03,0.06,0.09], "tickCount": 12, "format": ".2f", "labelOverlap": false, "domain": false, "grid": false, "tickSize": 5, "labelPadding": 7, "minExtent": 72, "maxExtent": 72}},
            "y2": {"field": "hi"}
          }
        },
        {
          "data": {"values": [{"label": "C1.T10A..HNZ"}]},
          "mark": {"type": "rect", "cornerRadius": 3, "fill": "white", "stroke": "#555", "strokeWidth": 1},
          "encoding": {
            "x": {"datum": {"year":2025,"month":4,"date":8,"hours":22,"minutes":30,"seconds":40,"milliseconds":350}, "type": "temporal"},
            "x2": {"datum": {"year":2025,"month":4,"date":8,"hours":22,"minutes":31,"seconds":1,"milliseconds":300}},
            "y": {"datum": 0.0875, "type": "quantitative"},
            "y2": {"datum": 0.0709}
          }
        },
        {
          "data": {"values": [{"label": "C1.T10A..HNZ"}]},
          "mark": {"type": "text", "align": "left", "baseline": "middle", "fontSize": 11.5, "color": "#444"},
          "encoding": {
            "x": {"datum": {"year":2025,"month":4,"date":8,"hours":22,"minutes":30,"seconds":41,"milliseconds":200}, "type": "temporal"},
            "y": {"datum": 0.0792, "type": "quantitative"},
            "text": {"field": "label"}
          }
        }
      ]
    },
    {
      "width": 680, "height": 216,
      "layer": [
        {
          "data": {"name": "w"},
          "transform": [{"filter": "datum.ch == 'HNN'"}],
          "mark": {"type": "area", "color": "#4a4a4a", "interpolate": "linear"},
          "encoding": {
            "x": {"field": "t", "type": "temporal", "scale": {"domain": [{"year":2025,"month":4,"date":8,"hours":22,"minutes":30,"seconds":38},{"year":2025,"month":4,"date":8,"hours":22,"minutes":33,"seconds":18,"milliseconds":995}]}, "axis": null},
            "y": {"field": "lo", "type": "quantitative", "scale": {"domain": [-0.105, 0.084], "nice": false, "zero": false},
                  "axis": {"title": null, "values": [-0.09,-0.06,-0.03,0,0.03,0.06], "tickCount": 12, "format": ".2f", "labelOverlap": false, "domain": false, "grid": false, "tickSize": 5, "labelPadding": 7, "minExtent": 72, "maxExtent": 72}},
            "y2": {"field": "hi"}
          }
        },
        {
          "data": {"values": [{"label": "C1.T10A..HNN"}]},
          "mark": {"type": "rect", "cornerRadius": 3, "fill": "white", "stroke": "#555", "strokeWidth": 1},
          "encoding": {
            "x": {"datum": {"year":2025,"month":4,"date":8,"hours":22,"minutes":30,"seconds":40,"milliseconds":350}, "type": "temporal"},
            "x2": {"datum": {"year":2025,"month":4,"date":8,"hours":22,"minutes":31,"seconds":1,"milliseconds":300}},
            "y": {"datum": 0.0779, "type": "quantitative"},
            "y2": {"datum": 0.0612}
          }
        },
        {
          "data": {"values": [{"label": "C1.T10A..HNN"}]},
          "mark": {"type": "text", "align": "left", "baseline": "middle", "fontSize": 11.5, "color": "#444"},
          "encoding": {
            "x": {"datum": {"year":2025,"month":4,"date":8,"hours":22,"minutes":30,"seconds":41,"milliseconds":200}, "type": "temporal"},
            "y": {"datum": 0.0696, "type": "quantitative"},
            "text": {"field": "label"}
          }
        }
      ]
    },
    {
      "width": 680, "height": 217,
      "layer": [
        {
          "data": {"name": "w"},
          "transform": [{"filter": "datum.ch == 'HNE'"}],
          "mark": {"type": "area", "color": "#4a4a4a", "interpolate": "linear"},
          "encoding": {
            "x": {"field": "t", "type": "temporal", "scale": {"domain": [{"year":2025,"month":4,"date":8,"hours":22,"minutes":30,"seconds":38},{"year":2025,"month":4,"date":8,"hours":22,"minutes":33,"seconds":18,"milliseconds":995}]},
                  "axis": {"title": null, "values": [
                    {"year":2025,"month":4,"date":8,"hours":22,"minutes":31,"seconds":0},
                    {"year":2025,"month":4,"date":8,"hours":22,"minutes":31,"seconds":30},
                    {"year":2025,"month":4,"date":8,"hours":22,"minutes":32,"seconds":0},
                    {"year":2025,"month":4,"date":8,"hours":22,"minutes":32,"seconds":30},
                    {"year":2025,"month":4,"date":8,"hours":22,"minutes":33,"seconds":0}],
                    "tickCount": 20,
                    "labelExpr": "datum.index == 0 ? timeFormat(datum.value, '%Y-%m-%dT%H:%M:%S') : timeFormat(datum.value, '%H:%M:%S')",
                    "labelOverlap": false, "domain": false, "grid": false, "tickSize": 5, "labelPadding": 5, "labelFlush": false}},
            "y": {"field": "lo", "type": "quantitative", "scale": {"domain": [-0.1059, 0.084], "nice": false, "zero": false},
                  "axis": {"title": null, "values": [-0.09,-0.06,-0.03,0,0.03,0.06], "tickCount": 12, "format": ".2f", "labelOverlap": false, "domain": false, "grid": false, "tickSize": 5, "labelPadding": 7, "minExtent": 72, "maxExtent": 72}},
            "y2": {"field": "hi"}
          }
        },
        {
          "data": {"values": [{"label": "C1.T10A..HNE"}]},
          "mark": {"type": "rect", "cornerRadius": 3, "fill": "white", "stroke": "#555", "strokeWidth": 1},
          "encoding": {
            "x": {"datum": {"year":2025,"month":4,"date":8,"hours":22,"minutes":30,"seconds":40,"milliseconds":350}, "type": "temporal"},
            "x2": {"datum": {"year":2025,"month":4,"date":8,"hours":22,"minutes":31,"seconds":1,"milliseconds":300}},
            "y": {"datum": 0.0779, "type": "quantitative"},
            "y2": {"datum": 0.0612}
          }
        },
        {
          "data": {"values": [{"label": "C1.T10A..HNE"}]},
          "mark": {"type": "text", "align": "left", "baseline": "middle", "fontSize": 11.5, "color": "#444"},
          "encoding": {
            "x": {"datum": {"year":2025,"month":4,"date":8,"hours":22,"minutes":30,"seconds":41,"milliseconds":200}, "type": "temporal"},
            "y": {"datum": 0.0696, "type": "quantitative"},
            "text": {"field": "label"}
          }
        }
      ]
    }
  ],
  "config": {
    "font": "DejaVu Sans",
    "view": {"stroke": "#444", "strokeWidth": 1},
    "axis": {"labelColor": "#444", "tickColor": "#444", "labelFontSize": 11.5, "labelFont": "DejaVu Sans", "labelOverlap": false},
    "title": {"font": "DejaVu Sans"}
  }
}
